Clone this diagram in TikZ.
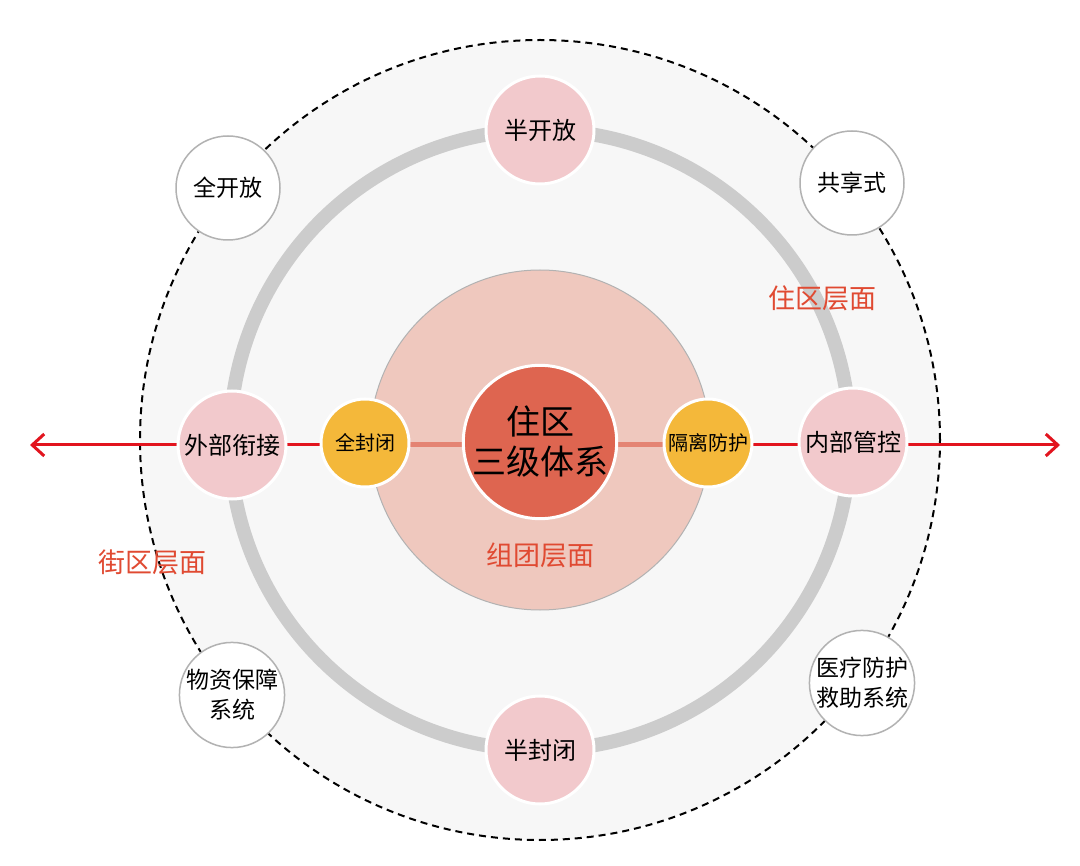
\documentclass[tikz,border=0pt]{standalone}
\usepackage{fontspec}
\setmainfont{Noto Sans CJK SC}
\usetikzlibrary{arrows.meta}
\definecolor{redline}{HTML}{E2141E}
\definecolor{pinkc}{HTML}{F2C9CC}
\definecolor{midc}{HTML}{EFC8BE}
\definecolor{centc}{HTML}{DE6550}
\definecolor{orc}{HTML}{F4B83A}
\definecolor{lab}{HTML}{E04A32}
\begin{document}
\begin{tikzpicture}[x=1pt,y=-1pt,
  pinkn/.style={circle,fill=pinkc,draw=white,line width=3pt,minimum size=108pt,inner sep=0pt,font=\fontsize{24}{28}\selectfont},
  orn/.style={circle,fill=orc,draw=white,line width=3pt,minimum size=88pt,inner sep=0pt,font=\fontsize{20}{24}\selectfont},
  whn/.style={circle,fill=white,draw=gray!60,line width=1.5pt,minimum size=104pt,inner sep=0pt,align=center,font=\fontsize{23}{30}\selectfont},
  lbl/.style={text=lab,font=\fontsize{27}{30}\selectfont}]
\useasboundingbox (0,0) rectangle (1080,866);
\fill[white] (0,0) rectangle (1080,866);
\node[circle,minimum size=800pt,fill=gray!6,draw=black,dash pattern=on 7pt off 5pt,line width=2pt] (outer) at (540,440) {};
\node[circle,minimum size=620pt,draw=gray!40,line width=14pt] (ring) at (540,440) {};
\node[circle,minimum size=340pt,fill=midc,draw=gray!60,line width=1pt] (mid) at (540,440) {};
\coordinate (L) at (30,445);
\coordinate (R) at (1060,445);
\draw[redline,line width=3pt,-{Straight Barb[length=12pt,width=22pt]}] (540,445) -- (R);
\draw[redline,line width=3pt,-{Straight Barb[length=12pt,width=22pt]}] (540,445) -- (L);
\draw[centc!80,line width=5pt] (365,445) -- (708,445);
\node[circle,minimum size=132pt,fill=centc,draw=white,line width=3pt,align=center,inner sep=0pt,font=\fontsize{34}{40}\selectfont] (c) at (540,442) {住区\\三级体系};
\node[pinkn] (a) at (540,130) {半开放};
\node[pinkn] (b) at (540,750) {半封闭};
\node[pinkn] (w) at (232,445) {外部衔接};
\node[pinkn] (n) at (853,442) {内部管控};
\node[orn] (o1) at (365,443) {全封闭};
\node[orn] (o2) at (708,443) {隔离防护};
\node[whn] (q) at (228,188) {全开放};
\node[whn] (g) at (852,183) {共享式};
\node[whn] (m) at (232,695) {物资保障\\系统};
\node[whn] (y) at (862,683) {医疗防护\\救助系统};
\node[lbl] (l1) at (822,298) {住区层面};
\node[lbl] (l2) at (152,562) {街区层面};
\node[lbl] (l3) at (540,555) {组团层面};
\end{tikzpicture}
\end{document}
